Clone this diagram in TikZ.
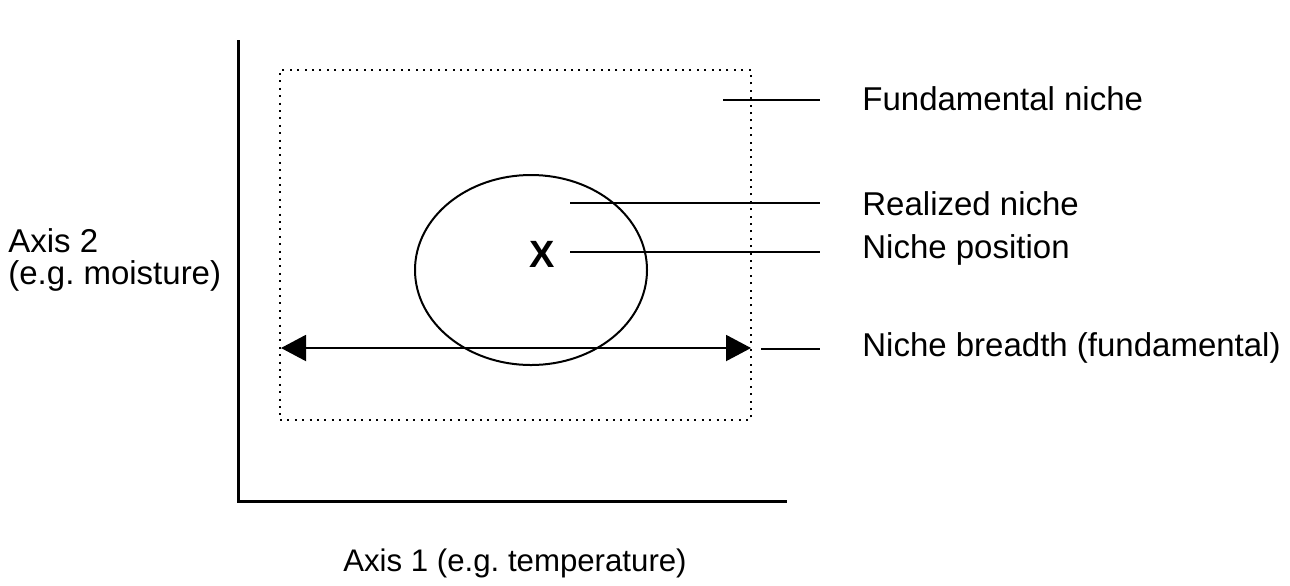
\documentclass[tikz,border=0pt]{standalone}
\usepackage{fontspec}
\setmainfont{Liberation Sans}
\usetikzlibrary{arrows.meta,positioning,shapes.geometric}
\begin{document}
\frenchspacing
\begin{tikzpicture}[x=0.5pt, y=-0.5pt,
    lbl/.style={anchor=west, inner sep=0pt, font=\fontsize{16.5}{16}\selectfont},
    leader/.style={line width=1.1pt},
    fundbox/.style={draw, line width=1.2pt, dash pattern=on 1pt off 2.7pt, inner sep=0pt}]
    \useasboundingbox (0,0) rectangle (1290,585);

    % axes
    \draw[line width=1.5pt] (238,40) -- (238,501) -- (787,501);
    \node[lbl, align=left] (ax2) at (8,260) {Axis 2\\(e.g. moisture)};
    \node[lbl, anchor=center, font=\fontsize{15.6}{15}\selectfont] (ax1) at (515,563) {Axis 1 (e.g. temperature)};

    % fundamental niche (dotted box)
    \node[fundbox, minimum width=235.5pt, minimum height=175pt] (fund) at (515.5,245) {};

    % realized niche
    \node[draw, ellipse, line width=1pt, inner sep=0pt,
        minimum width=116pt, minimum height=95pt] (real) at (531,270) {};
    \node[font=\fontsize{19}{20}\selectfont\bfseries, inner sep=0pt] (pos) at (542,254) {X};

    % niche breadth
    \coordinate (bl) at (281,348);
    \coordinate (br) at (751,348);
    \draw[line width=1pt, {Triangle[length=12.5pt,width=13pt]}-{Triangle[length=12.5pt,width=13pt]}] (bl) -- (br);

    % labels on the right
    \node[lbl] (fundlbl) at (862,99) {Fundamental niche};
    \node[lbl] (reallbl) at (862,204) {Realized niche};
    \node[lbl] (poslbl) at (862,250) {Niche position};
    \node[lbl] (brlbl) at (862,348) {Niche breadth (fundamental)};

    % leaders
    \coordinate (fundpt) at (723,100);
    \coordinate (realpt) at (570,203);
    \coordinate (pospt) at (570,252);
    \coordinate (brpt) at (761,349);
    \draw[leader] (fundpt) -- ([xshift=-21pt]fundlbl.west |- fundpt);
    \draw[leader] (realpt) -- ([xshift=-21pt]reallbl.west |- realpt);
    \draw[leader] (pospt) -- ([xshift=-21pt]poslbl.west |- pospt);
    \draw[leader] (brpt) -- ([xshift=-21pt]brlbl.west |- brpt);
\end{tikzpicture}
\end{document}
